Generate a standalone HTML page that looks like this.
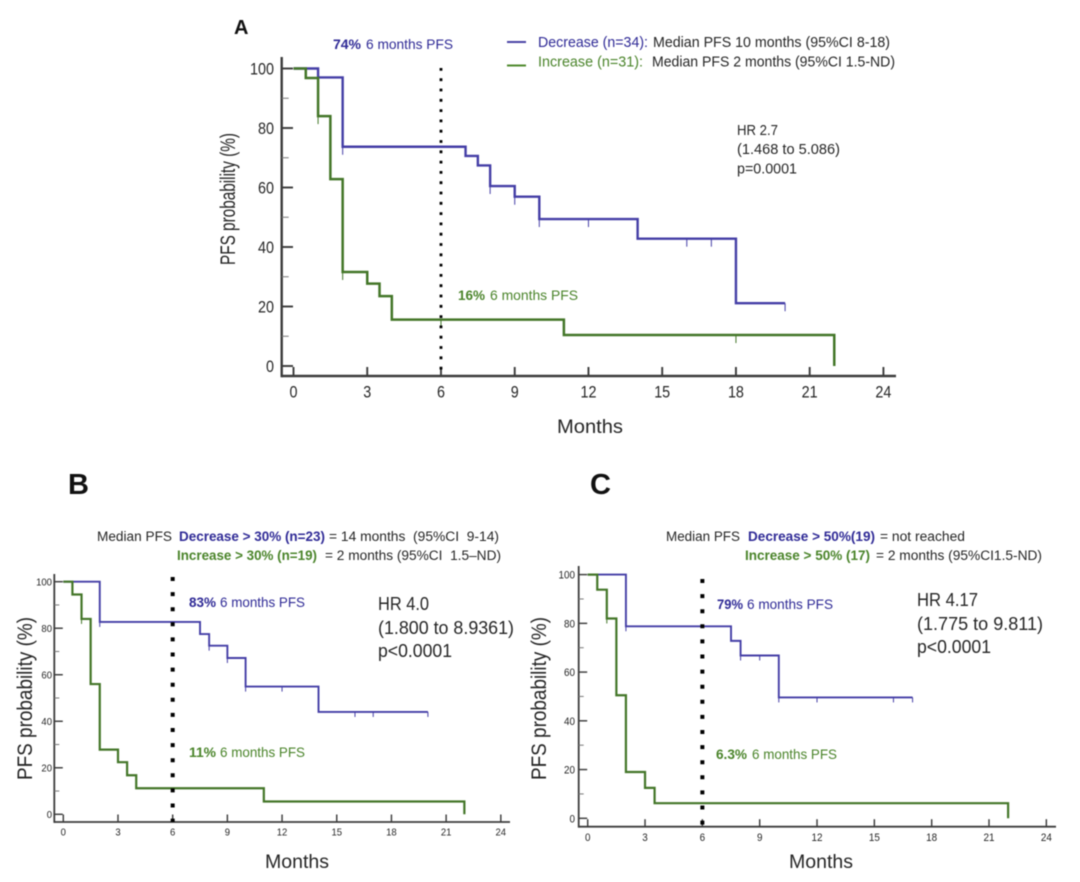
<!DOCTYPE html>
<html lang="en">
<head>
<meta charset="utf-8">
<title>PFS Kaplan-Meier curves</title>
<style>
html,body{margin:0;padding:0;background:#fff;width:1080px;height:882px;overflow:hidden}
svg{display:block;filter:blur(0.5px)}
text{font-family:"Liberation Sans",sans-serif;fill:#262626}
.blue{fill:#2f2a96}.green{fill:#4a842a}.b{font-weight:bold}
</style>
</head>
<body>
<svg id="figure" width="1080" height="882" viewBox="0 0 1080 882" xmlns="http://www.w3.org/2000/svg">
<rect width="1080" height="882" fill="#fff"/>

<g id="panel-a">
<text x="234" y="34" font-size="20" font-weight="bold" style="fill:#111">A</text>
<text class="blue b" x="333" y="49" font-size="14" textLength="28" lengthAdjust="spacingAndGlyphs">74%</text>
<text class="blue" x="366" y="49" font-size="14" textLength="87" lengthAdjust="spacingAndGlyphs">6 months PFS</text>
<line x1="507" x2="526" y1="42" y2="42" stroke="#4a44a6" stroke-width="2"/>
<line x1="507" x2="526" y1="65.5" y2="65.5" stroke="#4f8a2e" stroke-width="2"/>
<text class="blue" x="538" y="47" font-size="14.5" textLength="110" lengthAdjust="spacingAndGlyphs">Decrease (n=34):</text>
<text x="653" y="47" font-size="14.5" textLength="237" lengthAdjust="spacingAndGlyphs">Median PFS 10 months (95%CI 8-18)</text>
<text class="green" x="538" y="66.5" font-size="14.5" textLength="105" lengthAdjust="spacingAndGlyphs">Increase (n=31):</text>
<text x="652" y="66.5" font-size="14.5" textLength="243" lengthAdjust="spacingAndGlyphs">Median PFS 2 months (95%CI 1.5-ND)</text>
<text x="737" y="135" font-size="14.5" textLength="41" lengthAdjust="spacingAndGlyphs">HR 2.7</text>
<text x="737" y="154" font-size="14.5" textLength="103" lengthAdjust="spacingAndGlyphs">(1.468 to 5.086)</text>
<text x="737" y="173.5" font-size="14.5" textLength="60" lengthAdjust="spacingAndGlyphs">p=0.0001</text>
<text class="green b" x="458" y="300" font-size="14" textLength="27" lengthAdjust="spacingAndGlyphs">16%</text>
<text class="green" x="490" y="300" font-size="14" textLength="88" lengthAdjust="spacingAndGlyphs">6 months PFS</text>
<text x="557" y="433" font-size="19.5" textLength="66" lengthAdjust="spacingAndGlyphs">Months</text>
<text transform="translate(235 265) rotate(-90)" font-size="21" textLength="132" lengthAdjust="spacingAndGlyphs">PFS probability (%)</text>
</g>

<g id="panel-b">
<text x="68" y="494" font-size="29" font-weight="bold" style="fill:#111">B</text>
<text x="97" y="541" font-size="13.5" textLength="75" lengthAdjust="spacingAndGlyphs">Median PFS</text>
<text class="blue b" x="179" y="541" font-size="13.5" textLength="146" lengthAdjust="spacingAndGlyphs">Decrease &gt; 30% (n=23)</text>
<text x="329" y="541" font-size="13.5" textLength="170" lengthAdjust="spacingAndGlyphs" xml:space="preserve">= 14 months  (95%CI  9-14)</text>
<text class="green b" x="177" y="560" font-size="13.5" textLength="140" lengthAdjust="spacingAndGlyphs">Increase &gt; 30% (n=19)</text>
<text x="325" y="560" font-size="13.5" textLength="176" lengthAdjust="spacingAndGlyphs" xml:space="preserve">= 2 months (95%CI  1.5–ND)</text>
<text class="blue b" x="189" y="607" font-size="14" textLength="27" lengthAdjust="spacingAndGlyphs">83%</text>
<text class="blue" x="220" y="607" font-size="14" textLength="85" lengthAdjust="spacingAndGlyphs">6 months PFS</text>
<text class="green b" x="189" y="757" font-size="14" textLength="27" lengthAdjust="spacingAndGlyphs">11%</text>
<text class="green" x="220" y="757" font-size="14" textLength="85" lengthAdjust="spacingAndGlyphs">6 months PFS</text>
<text x="378" y="610" font-size="18" textLength="51" lengthAdjust="spacingAndGlyphs">HR 4.0</text>
<text x="378" y="634" font-size="18" textLength="136" lengthAdjust="spacingAndGlyphs">(1.800 to 8.9361)</text>
<text x="378" y="657" font-size="18" textLength="74" lengthAdjust="spacingAndGlyphs">p&lt;0.0001</text>
<text x="265" y="868" font-size="19.5" textLength="64" lengthAdjust="spacingAndGlyphs">Months</text>
<text transform="translate(32 780) rotate(-90)" font-size="21.5" textLength="163" lengthAdjust="spacingAndGlyphs">PFS probability (%)</text>
</g>

<g id="panel-c">
<text x="590" y="494" font-size="29" font-weight="bold" style="fill:#111">C</text>
<text x="666" y="541" font-size="13.5" textLength="74" lengthAdjust="spacingAndGlyphs">Median PFS</text>
<text class="blue b" x="748" y="541" font-size="13.5" textLength="127" lengthAdjust="spacingAndGlyphs">Decrease &gt; 50%(19)</text>
<text x="880" y="541" font-size="13.5" textLength="85" lengthAdjust="spacingAndGlyphs">= not reached</text>
<text class="green b" x="745" y="560" font-size="13.5" textLength="125" lengthAdjust="spacingAndGlyphs">Increase &gt; 50% (17)</text>
<text x="876" y="560" font-size="13.5" textLength="166" lengthAdjust="spacingAndGlyphs">= 2 months (95%CI1.5-ND)</text>
<text class="blue b" x="717" y="609" font-size="14" textLength="26" lengthAdjust="spacingAndGlyphs">79%</text>
<text class="blue" x="747" y="609" font-size="14" textLength="86" lengthAdjust="spacingAndGlyphs">6 months PFS</text>
<text class="green b" x="716" y="759" font-size="14" textLength="31" lengthAdjust="spacingAndGlyphs">6.3%</text>
<text class="green" x="752" y="759" font-size="14" textLength="85" lengthAdjust="spacingAndGlyphs">6 months PFS</text>
<text x="917" y="606" font-size="18" textLength="61" lengthAdjust="spacingAndGlyphs">HR 4.17</text>
<text x="917" y="630" font-size="18" textLength="126" lengthAdjust="spacingAndGlyphs">(1.775 to 9.811)</text>
<text x="917" y="653" font-size="18" textLength="74" lengthAdjust="spacingAndGlyphs">p&lt;0.0001</text>
<text x="789" y="868" font-size="19.5" textLength="64" lengthAdjust="spacingAndGlyphs">Months</text>
<text transform="translate(546 780) rotate(-90)" font-size="21.5" textLength="163" lengthAdjust="spacingAndGlyphs">PFS probability (%)</text>
</g>
</svg>

<script>
// Shared axis values
const xTickMonths = [0, 3, 6, 9, 12, 15, 18, 21, 24];
const yMajorTicks = [0, 20, 40, 60, 80, 100];
const yMinorTicks = [10, 30, 50, 70, 90];
const landmarkMonth = [6];

// Panel A
const aDecreaseMonths = [0, 1, 2, 7, 7.5, 8, 9, 10, 14, 18, 20];
const aDecreaseSurvival = [100, 97, 73.7, 70.6, 67.4, 60.5, 56.9, 49.4, 42.8, 21.1, 21.1];
const aDecreaseCensored = [2, 8, 9, 10, 12, 16, 17, 20];
const aIncreaseMonths = [0, 0.5, 1, 1.5, 2, 3, 3.5, 4, 11, 22, 22];
const aIncreaseSurvival = [100, 96.8, 84, 62.8, 31.6, 27.7, 23.5, 15.6, 10.4, 10.4, 0];
const aIncreaseCensored = [1, 2, 6, 18];

// Panel B
const bDecreaseMonths = [0, 2, 7.5, 8, 9, 10, 14, 20];
const bDecreaseSurvival = [100, 82.7, 77.5, 72.5, 67.2, 54.9, 44, 44];
const bDecreaseCensored = [2, 8, 9, 10, 12, 16, 17, 20];
const bIncreaseMonths = [0, 0.5, 1, 1.5, 2, 3, 3.5, 4, 11, 22, 22];
const bIncreaseSurvival = [100, 94.5, 84, 56, 27.8, 22.4, 16.8, 11.2, 5.5, 5.5, 0];
const bIncreaseCensored = [1];

// Panel C
const cDecreaseMonths = [0, 2, 7.5, 8, 10, 17];
const cDecreaseSurvival = [100, 78.8, 72.8, 66.8, 49.6, 49.6];
const cDecreaseCensored = [2, 8, 9, 10, 12, 16, 17];
const cIncreaseMonths = [0, 0.5, 1, 1.5, 2, 3, 3.5, 22, 22];
const cIncreaseSurvival = [100, 93.8, 82, 50.5, 19, 12.5, 6.2, 6.2, 0];
const cIncreaseCensored = [1];

const NS = 'http://www.w3.org/2000/svg';
const BLUE = '#443ea6';
const GREEN = '#437628';
const AXIS = '#3c3c3c';

function add(parent, tag, attrs, name) {
  const el = document.createElementNS(NS, tag);
  for (const k in attrs) el.setAttribute(k, attrs[k]);
  
  
  parent.appendChild(el);
  return el;
}

function survivalAt(months, values, t) {
  let v = values[0];
  for (let i = 0; i < months.length; i++) {
    if (months[i] <= t) {
      v = values[i];
      if (months[i] === t && i + 1 < months.length && months[i + 1] === t) break;
    }
  }
  return v;
}

function drawSeries(g, layout, sx, sy, months, values, censored, color, width, name) {
  let d = 'M' + sx(months[0]) + ' ' + sy(values[0]);
  for (let i = 1; i < months.length; i++) {
    d += 'H' + sx(months[i]) + 'V' + sy(values[i]);
  }
  add(g, 'path', {d: d, fill: 'none', stroke: color, 'stroke-width': width}, name + '-curve');
  censored.forEach(function (t) {
    const y = sy(survivalAt(months, values, t));
    add(g, 'line', {x1: sx(t), x2: sx(t), y1: y, y2: y + layout.censorLen, stroke: color, 'stroke-width': 1}, name + '-censor-mark');
  });
}

function drawPanel(id, layout, series) {
  const g = document.getElementById(id);
  const sx = function (m) { return layout.x0 + m * layout.xUnit; };
  const sy = function (v) { return layout.y0 - v * layout.yUnit; };

  // axes
  add(g, 'line', {x1: layout.axisX, x2: layout.axisX, y1: layout.axisTop, y2: layout.axisY + layout.axisW / 2, stroke: AXIS, 'stroke-width': layout.axisW}, 'y-axis-line');
  add(g, 'line', {x1: layout.axisX, x2: layout.axisRight, y1: layout.axisY, y2: layout.axisY, stroke: AXIS, 'stroke-width': layout.axisW}, 'x-axis-line');

  xTickMonths.forEach(function (m) {
    add(g, 'line', {x1: sx(m), x2: sx(m), y1: layout.axisY, y2: layout.axisY - layout.tickLen, stroke: AXIS, 'stroke-width': layout.axisW * 0.8}, 'x-tick');
    const t = add(g, 'text', {x: sx(m), y: layout.xLabelY, 'font-size': layout.labelSize, 'text-anchor': 'middle', 'textLength': String(m).length * layout.digitW, lengthAdjust: 'spacingAndGlyphs'}, 'x-tick-label');
    t.textContent = m;
  });
  yMajorTicks.forEach(function (v) {
    add(g, 'line', {x1: layout.axisX, x2: layout.x0 - 0.5, y1: sy(v), y2: sy(v), stroke: AXIS, 'stroke-width': layout.axisW * 0.8}, 'y-tick');
    const t = add(g, 'text', {x: layout.yLabelRight, y: sy(v) + layout.labelSize * 0.36, 'font-size': layout.labelSize, 'text-anchor': 'end', 'textLength': String(v).length * layout.digitW, lengthAdjust: 'spacingAndGlyphs'}, 'y-tick-label');
    t.textContent = v;
  });
  yMinorTicks.forEach(function (v) {
    add(g, 'line', {x1: layout.axisX, x2: layout.axisX + layout.minorLen, y1: sy(v), y2: sy(v), stroke: '#777', 'stroke-width': 1}, 'y-minor-tick');
  });

  drawSeries(g, layout, sx, sy, series.decMonths, series.decValues, series.decCensored, BLUE, layout.blueW, 'decrease');
  drawSeries(g, layout, sx, sy, series.incMonths, series.incValues, series.incCensored, GREEN, layout.greenW, 'increase');

  // landmark dotted line at 6 months
  const lm = sx(landmarkMonth[0]);
  add(g, 'line', {x1: lm, x2: lm, y1: layout.dotTop, y2: layout.axisY, stroke: '#000', 'stroke-width': layout.dotSize, 'stroke-dasharray': layout.dotSize + ' ' + (layout.dotGap - layout.dotSize)}, 'six-month-marker');
}

drawPanel('panel-a', {
  x0: 293.5, xUnit: 24.58, y0: 366, yUnit: 2.975,
  axisX: 281.7, axisY: 376, axisTop: 57, axisRight: 896, axisW: 2.4,
  tickLen: 9, minorLen: 7, censorLen: 8, blueW: 2.4, greenW: 2.5,
  labelSize: 17, digitW: 8, xLabelY: 397.5, yLabelRight: 274,
  dotTop: 68, dotGap: 10.3, dotSize: 2.8
}, {
  decMonths: aDecreaseMonths, decValues: aDecreaseSurvival, decCensored: aDecreaseCensored,
  incMonths: aIncreaseMonths, incValues: aIncreaseSurvival, incCensored: aIncreaseCensored
});

drawPanel('panel-b', {
  x0: 63.3, xUnit: 18.23, y0: 814.3, yUnit: 2.326,
  axisX: 54.3, axisY: 822, axisTop: 574, axisRight: 510, axisW: 1.8,
  tickLen: 7.5, minorLen: 5, censorLen: 5, blueW: 1.9, greenW: 2.2,
  labelSize: 10.5, digitW: 5.3, xLabelY: 835.5, yLabelRight: 52,
  dotTop: 577, dotGap: 15.1, dotSize: 4
}, {
  decMonths: bDecreaseMonths, decValues: bDecreaseSurvival, decCensored: bDecreaseCensored,
  incMonths: bIncreaseMonths, incValues: bIncreaseSurvival, incCensored: bIncreaseCensored
});

drawPanel('panel-c', {
  x0: 587.7, xUnit: 19.11, y0: 818.3, yUnit: 2.437,
  axisX: 578.7, axisY: 826.7, axisTop: 566, axisRight: 1056, axisW: 1.8,
  tickLen: 7.5, minorLen: 5, censorLen: 5, blueW: 1.9, greenW: 2.2,
  labelSize: 11, digitW: 5.5, xLabelY: 841, yLabelRight: 575,
  dotTop: 579, dotGap: 15.1, dotSize: 4
}, {
  decMonths: cDecreaseMonths, decValues: cDecreaseSurvival, decCensored: cDecreaseCensored,
  incMonths: cIncreaseMonths, incValues: cIncreaseSurvival, incCensored: cIncreaseCensored
});
</script>
</body>
</html>
